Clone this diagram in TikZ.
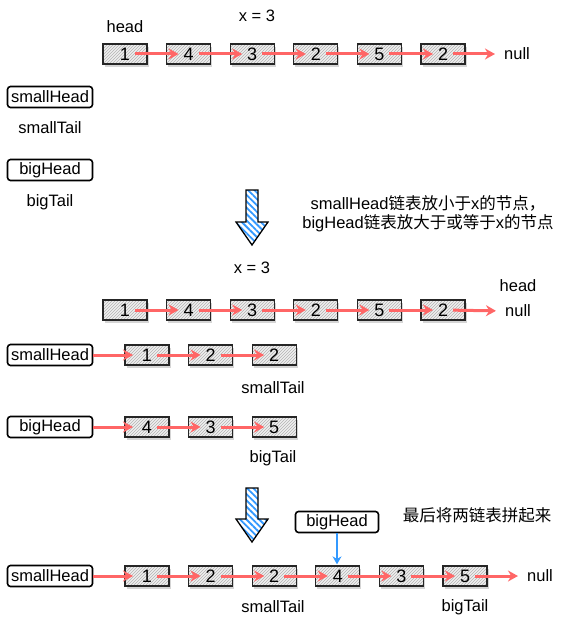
\documentclass[tikz,border=0pt]{standalone}
\usepackage{fontspec}
\setmainfont{Liberation Sans}
\newfontfamily\cjk{Noto Sans CJK SC}
\usetikzlibrary{arrows.meta,positioning,patterns,patterns.meta,shadows}

\definecolor{linkred}{RGB}{255,102,102}
\definecolor{markblue}{RGB}{51,153,255}

\begin{document}
\begin{tikzpicture}[
    x=1pt, y=-1pt,
    node distance=18.3pt,
    every node/.style={font=\fontsize{16.5}{19}\selectfont},
    cell/.style={drop shadow={shadow xshift=1.5pt, shadow yshift=-3pt, fill=gray!60, opacity=0.55},
        preaction={fill=gray!12}, pattern=north east lines, pattern color=gray!60,
        draw=black!85, line width=1.3pt, minimum width=44pt, minimum height=20pt, inner sep=0pt,
        font=\fontsize{18}{20}\selectfont},
    ptr/.style={draw, line width=1.6pt, rounded corners=3pt, fill=white, minimum width=85pt, minimum height=21pt, inner sep=0pt},
    link/.style={-{Stealth[length=10pt,width=11pt]}, line width=3pt, linkred},
    bluelink/.style={-{Stealth[length=8pt,width=9pt]}, line width=2.2pt, markblue},
    bigarrow/.style={draw, line width=1.3pt, preaction={fill=white}, pattern={Lines[angle=-45,distance=4.5pt,line width=1.8pt]}, pattern color=markblue},
    txt/.style={inner sep=1pt}
]
    \useasboundingbox (0,0) rectangle (565,623);

    % original list
    \node[txt] (xa) at (257,16) {x = 3};
    \node[txt] (heada) at (125,27) {head};
    \node[cell] (a1) at (125,54) {1};
    \node[cell, right=of a1] (a2) {4};
    \node[cell, right=of a2] (a3) {3};
    \node[cell, right=of a3] (a4) {2};
    \node[cell, right=of a4] (a5) {5};
    \node[cell, right=of a5] (a6) {2};
    \node[txt] (nulla) at (517,54) {null};
    \draw[link, shorten <=10pt, shorten >=10pt] (a1.center) -- (a2.center);
    \draw[link, shorten <=10pt, shorten >=10pt] (a2.center) -- (a3.center);
    \draw[link, shorten <=10pt, shorten >=10pt] (a3.center) -- (a4.center);
    \draw[link, shorten <=10pt, shorten >=10pt] (a4.center) -- (a5.center);
    \draw[link, shorten <=10pt, shorten >=10pt] (a5.center) -- (a6.center);
    \draw[link, shorten <=10pt, shorten >=8pt] (a6.center) -- (nulla.west);

    \node[ptr] (sha) at (50,97) {smallHead};
    \node[txt] (sta) at (50,128) {smallTail};
    \node[ptr] (bha) at (50,170) {bigHead};
    \node[txt] (bta) at (50,202) {bigTail};

    % step 1
    \draw[bigarrow] (246,190) -- (258,190) -- (258,222) -- (268,222) -- (252,245) -- (236,222) -- (246,222) -- cycle;
    \node[txt, align=center] (note1) at (428,214) {smallHead{\cjk 链表放小于}x{\cjk 的节点，}\\bigHead{\cjk 链表放大于或等于}x{\cjk 的节点}};

    \node[txt] (xb) at (252,268) {x = 3};
    \node[cell] (b1) at (125,310) {1};
    \node[cell, right=of b1] (b2) {4};
    \node[cell, right=of b2] (b3) {3};
    \node[cell, right=of b3] (b4) {2};
    \node[cell, right=of b4] (b5) {5};
    \node[cell, right=of b5] (b6) {2};
    \node[txt] (headb) at (518,286) {head};
    \node[txt] (nullb) at (518,311) {null};
    \draw[link, shorten <=10pt, shorten >=10pt] (b1.center) -- (b2.center);
    \draw[link, shorten <=10pt, shorten >=10pt] (b2.center) -- (b3.center);
    \draw[link, shorten <=10pt, shorten >=10pt] (b3.center) -- (b4.center);
    \draw[link, shorten <=10pt, shorten >=10pt] (b4.center) -- (b5.center);
    \draw[link, shorten <=10pt, shorten >=10pt] (b5.center) -- (b6.center);
    \draw[link, shorten <=10pt, shorten >=8pt] (b6.center) -- (nullb.west);

    \node[ptr] (shb) at (50,355) {smallHead};
    \node[cell] (s1) at (147,355) {1};
    \node[cell, right=of s1] (s2) {2};
    \node[cell, right=of s2] (s3) {2};
    \node[txt] (stb) at (273,388) {smallTail};
    \draw[link, shorten >=14pt] (shb.east) -- (s1.center);
    \draw[link, shorten <=10pt, shorten >=10pt] (s1.center) -- (s2.center);
    \draw[link, shorten <=10pt, shorten >=10pt] (s2.center) -- (s3.center);

    \node[ptr] (bhb) at (50,427) {bigHead};
    \node[cell] (g1) at (147,427) {4};
    \node[cell, right=of g1] (g2) {3};
    \node[cell, right=of g2] (g3) {5};
    \node[txt] (btb) at (273,458) {bigTail};
    \draw[link, shorten >=14pt] (bhb.east) -- (g1.center);
    \draw[link, shorten <=10pt, shorten >=10pt] (g1.center) -- (g2.center);
    \draw[link, shorten <=10pt, shorten >=10pt] (g2.center) -- (g3.center);

    % step 2
    \draw[bigarrow] (246,488) -- (258,488) -- (258,519) -- (268,519) -- (252,542) -- (236,519) -- (246,519) -- cycle;
    \node[txt] (note2) at (477,515) {\cjk 最后将两链表拼起来};

    \node[ptr] (shc) at (50,576) {smallHead};
    \node[cell] (c1) at (147,576) {1};
    \node[cell, right=of c1] (c2) {2};
    \node[cell, right=of c2] (c3) {2};
    \node[cell, right=of c3] (c4) {4};
    \node[cell, right=of c4] (c5) {3};
    \node[cell, right=of c5] (c6) {5};
    \node[txt] (nullc) at (540,576) {null};
    \node[ptr, minimum width=83pt] (bhc) at (337,522) {bigHead};
    \node[txt] (stc) at (273,607) {smallTail};
    \node[txt] (btc) at (465,607) {bigTail};
    \draw[link, shorten >=14pt] (shc.east) -- (c1.center);
    \draw[link, shorten <=10pt, shorten >=10pt] (c1.center) -- (c2.center);
    \draw[link, shorten <=10pt, shorten >=10pt] (c2.center) -- (c3.center);
    \draw[link, shorten <=10pt, shorten >=10pt] (c3.center) -- (c4.center);
    \draw[link, shorten <=10pt, shorten >=10pt] (c4.center) -- (c5.center);
    \draw[link, shorten <=10pt, shorten >=10pt] (c5.center) -- (c6.center);
    \draw[link, shorten <=10pt, shorten >=8pt] (c6.center) -- (nullc.west);
    \draw[bluelink, shorten >=1pt] (bhc.south) -- (bhc.south |- c4.north);
\end{tikzpicture}
\end{document}
